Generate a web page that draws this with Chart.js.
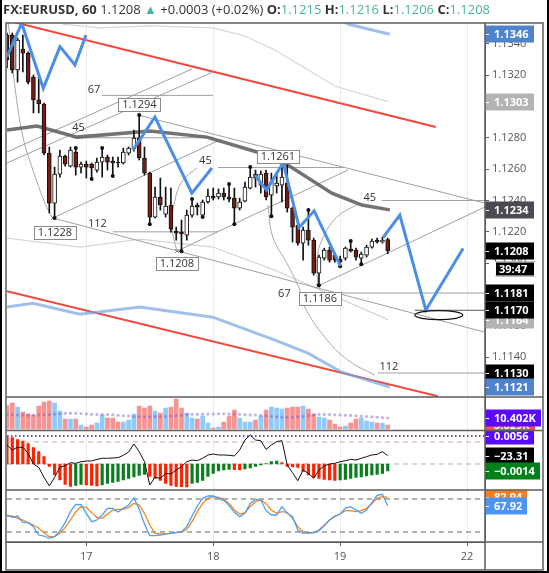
<!DOCTYPE html>
<html>
<head>
<meta charset="utf-8">
<title>FX:EURUSD, 60</title>
<style>
    html, body { margin: 0; padding: 0; background: #fff; }
    #wrap { position: relative; width: 549px; height: 573px; }
    #chart { position: absolute; left: 0; top: 0; }
    #header { position: absolute; left: 3px; top: 0px; font: 13px 'Open Sans', sans-serif; color: #333; white-space: nowrap; }
    #header b { font-weight: 700; }
    .up { color: #4bb2a0; }
</style>
</head>
<body>
<div id="wrap">
    <canvas id="chart" width="549" height="573"></canvas>
    <div id="header"><b>FX:EURUSD, 60</b> 1.1208 <span class="up">▲</span> +0.0003 (+0.02%) <b>O:</b><span class="up">1.1215</span> <b>H:</b><span class="up">1.1216</span> <b>L:</b><span class="up">1.1206</span> <b>C:</b><span class="up">1.1208</span></div>
</div>

<script src="https://cdn.jsdelivr.net/npm/chart.js@4.4.0/dist/chart.umd.min.js"></script>
<script>
    // one bar per hour, bar 15 = the 17th 00:00
    const dayTicks = [15, 39, 63, 87];
    const dayLabels = ['17', '18', '19', '22'];
    const priceTicks = [1.112, 1.114, 1.116, 1.118, 1.120, 1.122, 1.124, 1.126, 1.128, 1.130, 1.132, 1.134];

    const opens = [1.13455, 1.13455, 1.13232, 1.13366, 1.13340, 1.13187, 1.13041, 1.13015, 1.12702, 1.12383,
        1.12568, 1.12683, 1.12619, 1.12709, 1.12613, 1.12632, 1.12632, 1.12594, 1.12645, 1.12677,
        1.12651, 1.12645, 1.12639, 1.12702, 1.12728, 1.12798, 1.12671, 1.12575, 1.12294, 1.12422,
        1.12313, 1.12371, 1.12205, 1.12198, 1.12179, 1.12307, 1.12371, 1.12307, 1.12390, 1.12428,
        1.12422, 1.12447, 1.12422, 1.12415, 1.12351, 1.12396, 1.12479, 1.12568, 1.12498, 1.12575,
        1.12434, 1.12492, 1.12498, 1.12511, 1.12351, 1.12243, 1.12128, 1.12211, 1.12147, 1.11937,
        1.12032, 1.12084, 1.12052, 1.12026, 1.12032, 1.12090, 1.12084, 1.12032, 1.12052, 1.12103,
        1.12147, 1.12135, 1.1215];
    const highs = [1.13468, 1.13468, 1.13436, 1.13455, 1.13347, 1.13200, 1.13187, 1.13021, 1.12741, 1.12613,
        1.12722, 1.12690, 1.12741, 1.12734, 1.12645, 1.12651, 1.12639, 1.12671, 1.12734, 1.12690,
        1.12677, 1.12677, 1.12734, 1.12741, 1.12849, 1.12945, 1.12741, 1.12581, 1.12485, 1.12543,
        1.12485, 1.12479, 1.12230, 1.12275, 1.12339, 1.12409, 1.12383, 1.12403, 1.12473, 1.12479,
        1.12473, 1.12479, 1.12505, 1.12479, 1.12415, 1.12517, 1.12613, 1.12594, 1.12588, 1.12594,
        1.12575, 1.12581, 1.12613, 1.12626, 1.12358, 1.12262, 1.12230, 1.12339, 1.12160, 1.12052,
        1.12096, 1.12103, 1.12064, 1.12045, 1.12103, 1.12141, 1.12096, 1.12071, 1.12115, 1.12154,
        1.12160, 1.12166, 1.1216];
    const lows = [1.13245, 1.13213, 1.13155, 1.13219, 1.13143, 1.12958, 1.12958, 1.12690, 1.12320, 1.12288,
        1.12549, 1.12619, 1.12613, 1.12562, 1.12575, 1.12543, 1.12537, 1.12581, 1.12549, 1.12594,
        1.12556, 1.12613, 1.12632, 1.12690, 1.12715, 1.12658, 1.12562, 1.12249, 1.12288, 1.12339,
        1.12294, 1.12198, 1.12147, 1.12077, 1.12147, 1.12294, 1.12307, 1.12294, 1.12383, 1.12403,
        1.12409, 1.12403, 1.12390, 1.12249, 1.12339, 1.12390, 1.12473, 1.12485, 1.12447, 1.12403,
        1.12300, 1.12447, 1.12390, 1.12326, 1.12135, 1.12115, 1.12020, 1.12115, 1.11924, 1.11860,
        1.12020, 1.12007, 1.12007, 1.11981, 1.12020, 1.12071, 1.12020, 1.11994, 1.12039, 1.12096,
        1.12128, 1.12128, 1.1206];
    const closes = [1.13296, 1.13232, 1.13423, 1.13340, 1.13155, 1.13041, 1.13015, 1.12702, 1.12383, 1.12568,
        1.12683, 1.12632, 1.12722, 1.12613, 1.12632, 1.12613, 1.12607, 1.12645, 1.12677, 1.12645,
        1.12639, 1.12639, 1.12709, 1.12734, 1.12798, 1.12671, 1.12575, 1.12294, 1.12422, 1.12371,
        1.12364, 1.12217, 1.12192, 1.12186, 1.12307, 1.12364, 1.12358, 1.12390, 1.12428, 1.12415,
        1.12447, 1.12422, 1.12409, 1.12351, 1.12390, 1.12485, 1.12549, 1.12543, 1.12568, 1.12422,
        1.12517, 1.12511, 1.12549, 1.12351, 1.12230, 1.12128, 1.12211, 1.12147, 1.11937, 1.12039,
        1.12084, 1.12020, 1.12020, 1.12007, 1.12096, 1.12077, 1.12039, 1.12058, 1.12103, 1.12141,
        1.12135, 1.12147, 1.1208];

    // bars carrying a fractal dot
    const fractalUp = [13, 18, 25, 35, 42, 46, 57, 65];
    const fractalDown = [9, 16, 20, 27, 33, 37, 43, 50, 59, 63, 67];

    // volume, thousands
    const volume = [22, 24.5, 20.8, 16, 14.2, 13.2, 21.7, 25.5, 26.4, 24.5,
        17, 9.4, 9.4, 9.4, 3.8, 1.9, 3.8, 5.7, 13.2, 10.4,
        10.4, 6.6, 6.6, 8.5, 14.2, 21.7, 19.8, 21.7, 17, 15.1,
        19.8, 20.8, 28.3, 19.8, 15.1, 10.4, 9.4, 12.3, 5.7, 0.9,
        1.9, 6.6, 12.3, 17.9, 10.4, 6.6, 6.6, 8.5, 12.3, 17.9,
        20.8, 19.8, 18.9, 19.8, 20.8, 20.8, 21.7, 18.9, 14.2, 11.3,
        10.4, 8.5, 4.7, 1.9, 2.8, 5.7, 9.4, 10.4, 7.5, 6.6,
        5.7, 5.7, 3.8];
    const volumeMA = [13.4, 13.3, 13.2, 13.2, 13.1, 13.2, 13.3, 13.4, 13.6, 14.0,
        14.4, 14.8, 14.9, 14.8, 14.6, 14.2, 13.9, 13.8, 13.8, 13.7,
        13.5, 13.0, 12.5, 12.2, 11.8, 11.6, 11.5, 11.5, 11.6, 11.7,
        11.9, 12.2, 12.6, 13.1, 13.6, 13.9, 14.0, 14.0, 14.1, 14.2,
        14.3, 14.3, 14.2, 14.1, 13.8, 13.5, 13.3, 13.2, 13.0, 12.5,
        12.0, 11.4, 11.0, 10.9, 11.0, 11.4, 12.0, 12.6, 13.4, 13.9,
        13.8, 13.6, 13.4, 13.2, 13.0, 12.8, 12.5, 12.2, 11.8, 11.5,
        11.1, 10.7, 10.4];

    const macdHist = [0.0055, 0.0053, 0.0049, 0.0046, 0.0041, 0.0033, 0.0025, 0.0015, -0.0005, -0.0022,
        -0.0032, -0.0041, -0.0045, -0.0043, -0.0041, -0.0042, -0.0043, -0.0044, -0.0042, -0.0039,
        -0.0037, -0.0035, -0.0032, -0.0029, -0.0026, -0.0023, -0.0021, -0.0025, -0.0029, -0.0033,
        -0.0039, -0.0043, -0.0045, -0.00455, -0.0046, -0.0039, -0.0037, -0.0033, -0.0025, -0.0019,
        -0.0014, -0.0012, -0.0011, -0.00115, -0.0012, -0.0010, -0.0008, -0.0005, -0.0002, 0.0001,
        0.0005, 0.0006, 0.0003, -0.0005, -0.0006, -0.0007, -0.0015, -0.0022, -0.0027, -0.0029,
        -0.0031, -0.0032, -0.0033, -0.0032, -0.0031, -0.0029, -0.0027, -0.0026, -0.0024, -0.0022,
        -0.0021, -0.0019, -0.0014];
    const macdLevel = 0.0056;

    const cci = [73, 27, 52, 52, -3, -100, -130, -221, -300, -221,
        -130, -115, -88, -94, -79, -73, -73, -58, -48, -48,
        -45, -42, -21, 9, 82, 12, -79, -291, -221, -230,
        -185, -191, -155, -124, -79, -64, -70, -48, -18, -9,
        -18, -18, -21, -27, 27, 118, 164, 118, 112, 33,
        73, 103, 112, -109, -179, -252, -155, -185, -230, -155,
        -118, -100, -94, -79, -70, -58, -64, -48, -33, -18,
        -12, 12, -23.31];
    const cciLevels = [100, -100];

    const stochK = [50.9, 46.7, 49.1, 37.6, 37, 29.7, 14.5, 12.7, 8.5, 11.5,
        21.8, 37, 57, 70.3, 69.7, 54, 38.8, 41.8, 50.9, 63,
        63, 56.4, 63, 69.1, 82.4, 61.2, 34.5, 13.3, 13.3, 14.5,
        16.4, 17.6, 19.4, 20.6, 29.7, 49.1, 67.3, 81.2, 85.5, 85.5,
        80.6, 77.6, 67.9, 55.8, 47.9, 54, 72.1, 79.4, 78.2, 58.8,
        50.9, 50.9, 66.1, 54, 47.9, 23.6, 17.6, 18.8, 18.8, 22.4,
        31.5, 41.8, 49.1, 52.7, 63.6, 66.1, 60, 54, 60, 73.3,
        86.7, 88.5, 67.92];
    const stochD = [49.1, 49.1, 44.8, 41.8, 37, 32.7, 26.7, 18.8, 11.5, 11.5,
        17.6, 27.9, 41.8, 57, 66.1, 64.8, 55.2, 46.7, 44.8, 52.7,
        60, 61.2, 61.2, 64.8, 72.1, 69.1, 54, 32.7, 17.6, 16.4,
        16.4, 17.6, 18.8, 20, 24.8, 38.8, 57, 72.1, 81.2, 84.2,
        83, 79.4, 72.1, 60, 52.7, 55.2, 66.1, 75.2, 78.2, 71.5,
        60, 54, 57, 55.2, 44.8, 29.7, 20.6, 17.6, 18.8, 23.6,
        32.7, 41.8, 47.9, 52.7, 58.8, 58.8, 57, 58.8, 63, 71.5,
        81.2, 84.2, 82.94];
    const stochLevels = [80, 20];

    // overlays on the price pane, [bar, price]
    const maLine = [[0, 1.12849], [5.67, 1.12875], [13.23, 1.12804], [27.03, 1.12843], [37.81, 1.12804],
        [47.26, 1.12709], [53.12, 1.12626], [61.44, 1.12447], [67.11, 1.12371], [72.4, 1.1234]];
    const bandUpper = [[10.4, 1.13525], [17.58, 1.13500], [27.03, 1.13513], [38.94, 1.13500], [44.99, 1.13449],
        [50.66, 1.13360], [56.33, 1.13245], [62.0, 1.13130], [72.02, 1.1303]];
    const bandLower = [[0, 1.12160], [13.8, 1.12103], [25.14, 1.12154], [38.94, 1.12103], [50.66, 1.11956], [72.02, 1.1164]];
    const blueLower = [[0, 1.11720], [4.91, 1.11745], [13.8, 1.11675], [25.14, 1.11720], [38.94, 1.11656],
        [50.66, 1.11509], [56.9, 1.11426], [63.33, 1.11305], [72.4, 1.1121]];
    const blueUpper = [[62.95, 1.13564], [64.46, 1.13525], [72.4, 1.1346]];
    const channelTop = [[0, 1.13548], [81.1, 1.12868]];
    const channelBottom = [[0, 1.11822], [81.47, 1.11152]];

    const zigzags = [
        [[0, 1.13317], [2.78, 1.13530], [6.86, 1.13115], [10.02, 1.13381], [12.85, 1.13264], [14.93, 1.13455]],
        [[23.82, 1.12722], [27.98, 1.12932], [34.97, 1.12447], [38.75, 1.12607]],
        [[46.88, 1.12562], [49.09, 1.12466], [52.23, 1.12641], [55.25, 1.12228], [58.09, 1.12334], [63.08, 1.11981]],
        [[71.13, 1.12164], [74.29, 1.12307], [79.21, 1.11701], [86.26, 1.12094]]
    ];

    const fanLines = [
        [[24.76, 1.12945], [90.36, 1.12383]],
        [[8.7, 1.12288], [90.36, 1.11560]],
        [[32.14, 1.12077], [64.46, 1.12594]],
        [[58.79, 1.11854], [90.36, 1.12358]],
        [[8.7, 1.12288], [40.64, 1.12792]],
        [[0, 1.12709], [34.97, 1.13238]],
        [[0, 1.12639], [38.94, 1.13219]]
    ];
    const arcs = [
        [[0.19, 1.13531], [0.57, 1.13442], [1.51, 1.13123], [3.02, 1.12804], [4.91, 1.12594], [7.18, 1.12383], [8.5, 1.12294]],
        [[32.14, 1.12077], [31.19, 1.12230], [31.76, 1.12403], [33.27, 1.12530], [35.92, 1.12607]],
        [[58.79, 1.11860], [58.6, 1.12020], [59.55, 1.12147], [62.38, 1.12294], [66.73, 1.12383]],
        [[49.34, 1.12371], [50.28, 1.12166], [52.93, 1.12001], [55.39, 1.11828], [56.33, 1.11720],
            [60.11, 1.11528], [64.46, 1.11382], [69.57, 1.11286]]
    ];

    const levelPrices = [1.1307, 1.1280, 1.1220, 1.1261, 1.1240, 1.1181, 1.1130, 1.1170];
    const levelFrom = [17.96, 12.29, 20.04, 39.89, 70.89, 62.57, 70.13, 77.13];
    const levelTo = [38.94, 38.94, 39.89, 63.89, 90.4, 90.4, 90.4, 90.4];
    const levelLabels = ['67', '45', '112', '45', '45', '67', '112', ''];
    const levelLabelX = [16.45, 13.52, 17.11, 37.52, 68.62, 52.46, 72.21, 0];
    const levelLabelP = [1.13104, 1.12862, 1.12249, 1.12651, 1.12415, 1.11803, 1.11337, 0];

    const pivotText = ['1.1294', '1.1261', '1.1228', '1.1208', '1.1186'];
    const pivotX = [25.05, 51.23, 9.07, 32.14, 59.17];
    const pivotP = [1.13012, 1.12683, 1.12198, 1.11997, 1.11774];
    const pivotMarks = [[8.7, 1.12288], [32.14, 1.12077], [58.79, 1.11854]];

    // centre bar, centre price, bar radius, price radius
    const targetEllipse = [81.66, 1.11669, 4.54, 0.00029];

    const priceBadges = [[1.1346, '1.1346'], [1.1303, '1.1303'], [1.1234, '1.1234'], [1.1164, '1.1164'],
        [1.1170, '1.1170'], [1.1181, '1.1181'], [1.1208, '1.1208'], [1.1130, '1.1130'], [1.1121, '1.1121']];
    const countdown = '39:47';
    const volumeBadges = [[3.829, '3.829K'], [10.402, '10.402K']];
    const macdBadges = [[0.0056, '0.0056'], [-0.0014, '\u22120.0014']];
    const cciBadge = [-23.31, '\u221223.31'];
    const stochBadges = [[82.94, '82.94'], [67.92, '67.92']];

    const xMax = 90.4;

    // ---- datasets ----
    const bars = opens.map((_, i) => i);
    const pts = arr => arr.map(p => ({x: p[0], y: p[1]}));
    const datasets = [];

    function addLine(points, color, width, extra) {
        datasets.push(Object.assign({
            type: 'line', data: pts(points), borderColor: color, borderWidth: width,
            pointRadius: 0, fill: false, tension: 0, yAxisID: 'y', order: 10
        }, extra || {}));
    }

    fanLines.forEach(l => addLine(l, '#a0a0a0', 1));
    arcs.forEach(a => addLine(a, '#a8a8a8', 1, {tension: 0.4}));
    levelPrices.forEach((p, i) => addLine([[levelFrom[i], p], [levelTo[i], p]], i === 7 ? '#555' : '#a0a0a0', 1));
    addLine(bandUpper, '#d6d6d6', 1.2);
    addLine(bandLower, '#d6d6d6', 1.2);
    addLine(blueLower, 'rgba(120,165,225,0.7)', 3);
    addLine(blueUpper, 'rgba(120,165,225,0.7)', 3);
    addLine(channelTop, '#f0483a', 2);
    addLine(channelBottom, '#f0483a', 2);
    addLine(maLine, 'rgba(90,90,90,0.85)', 3.5, {order: 8});

    datasets.push({
        type: 'bar', data: bars.map(i => ({x: i, y: [lows[i], highs[i]]})),
        backgroundColor: '#111', barThickness: 1, grouped: false, yAxisID: 'y', order: 6
    });
    datasets.push({
        type: 'bar', data: bars.map(i => ({x: i, y: [opens[i], closes[i]]})),
        backgroundColor: bars.map(i => closes[i] >= opens[i] ? '#ffffff' : '#731c14'),
        borderColor: '#111', borderWidth: 1, borderSkipped: false, barThickness: 4, minBarLength: 1,
        grouped: false, yAxisID: 'y', order: 5
    });
    datasets.push({
        type: 'scatter', data: fractalUp.map(i => ({x: i, y: highs[i]})).concat(fractalDown.map(i => ({x: i, y: lows[i]}))),
        pointRadius: 2, pointBackgroundColor: '#111', pointBorderWidth: 0, yAxisID: 'y', order: 4
    });
    datasets.push({
        type: 'scatter', data: pts(pivotMarks), pointStyle: 'crossRot', pointRadius: 3,
        pointBorderColor: '#888', pointBorderWidth: 1, yAxisID: 'y', order: 4
    });
    zigzags.forEach(z => addLine(z, '#4a8ee8', 3, {order: 2}));

    // volume pane
    datasets.push({
        type: 'bar', data: bars.map(i => ({x: i, y: volume[i]})),
        backgroundColor: bars.map(i => closes[i] >= opens[i] ? 'rgba(33,150,243,0.5)' : 'rgba(239,83,80,0.62)'),
        barThickness: 4, grouped: false, yAxisID: 'yVol', order: 3
    });
    datasets.push({
        type: 'line', data: bars.map(i => ({x: i, y: volumeMA[i]})), showLine: false,
        pointRadius: 1.6, pointBackgroundColor: 'rgba(126,87,194,0.45)', pointBorderWidth: 0,
        yAxisID: 'yVol', order: 2
    });

    // histogram + CCI pane
    datasets.push({
        type: 'bar', data: bars.map(i => ({x: i, y: macdHist[i]})),
        backgroundColor: bars.map(i => i > 0 && macdHist[i] > macdHist[i - 1] ? '#0a7e1e' : '#ff2200'),
        barThickness: 2.5, grouped: false, yAxisID: 'yMacd', order: 3
    });
    addLine([[0, macdLevel], [xMax, macdLevel]], '#3a10ff', 1.5, {yAxisID: 'yMacd', borderDash: [1.5, 2.5], order: 4});
    cciLevels.forEach(v => addLine([[0, v], [xMax, v]], '#b4b4b4', 1, {yAxisID: 'yCci', borderDash: [5, 4], order: 4}));
    addLine(bars.map(i => [i, cci[i]]), '#111', 1, {yAxisID: 'yCci', order: 2});

    // stochastic pane
    stochLevels.forEach(v => addLine([[0, v], [xMax, v]], '#666', 1, {yAxisID: 'yStoch', borderDash: [5, 4], order: 4}));
    addLine(bars.map(i => [i, stochD[i]]), '#f5841f', 1.3, {yAxisID: 'yStoch', order: 3});
    addLine(bars.map(i => [i, stochK[i]]), '#4a9ff5', 1.3, {yAxisID: 'yStoch', order: 2});

    // ---- drawing helpers ----
    function drawBadge(ctx, left, scale, clipScale, value, text, bg) {
        const cy = Math.round(scale.getPixelForValue(value));
        ctx.save();
        ctx.beginPath();
        ctx.rect(left, clipScale.top, 64, clipScale.bottom - clipScale.top);
        ctx.clip();
        ctx.font = 'bold 11px "Open Sans", sans-serif';
        const w = Math.round(ctx.measureText(text).width + 14);
        ctx.fillStyle = bg;
        ctx.fillRect(left, cy - 8.5, w, 17);
        ctx.strokeStyle = '#fff';
        ctx.lineWidth = 1;
        ctx.beginPath();
        ctx.moveTo(left, cy + 0.5);
        ctx.lineTo(left + 4, cy + 0.5);
        ctx.stroke();
        ctx.fillStyle = '#fff';
        ctx.textAlign = 'left';
        ctx.textBaseline = 'middle';
        ctx.fillText(text, left + 9, cy + 0.5);
        ctx.restore();
    }

    const overlay = {
        id: 'overlay',
        afterDatasetsDraw(chart) {
            const {ctx} = chart;
            const x = chart.scales.x, y = chart.scales.y;
            const px = v => x.getPixelForValue(v), py = v => y.getPixelForValue(v);
            ctx.save();
            ctx.beginPath();
            ctx.rect(x.left, y.top, x.right - x.left, y.bottom - y.top);
            ctx.clip();

            const cx = px(targetEllipse[0]), cy = py(targetEllipse[1]);
            ctx.beginPath();
            ctx.ellipse(cx, cy, Math.abs(px(targetEllipse[0] + targetEllipse[2]) - cx),
                Math.abs(py(targetEllipse[1] + targetEllipse[3]) - cy), 0, 0, Math.PI * 2);
            ctx.strokeStyle = '#111';
            ctx.lineWidth = 1.2;
            ctx.stroke();

            ctx.font = '11px "Open Sans", sans-serif';
            ctx.textAlign = 'center';
            ctx.textBaseline = 'middle';
            ctx.fillStyle = '#333';
            levelLabels.forEach((t, i) => {
                if (t) ctx.fillText(t, px(levelLabelX[i]), py(levelLabelP[i]));
            });

            pivotText.forEach((t, i) => {
                const bx = px(pivotX[i]), by = py(pivotP[i]);
                const w = Math.round(ctx.measureText(t).width + 8);
                const l = Math.round(bx - w / 2) + 0.5, tp = Math.round(by - 6.5) + 0.5;
                ctx.fillStyle = '#fff';
                ctx.fillRect(l, tp, w, 13);
                ctx.strokeStyle = '#8a8a8a';
                ctx.lineWidth = 1;
                ctx.strokeRect(l, tp, w, 13);
                ctx.fillStyle = '#333';
                ctx.fillText(t, bx, by + 0.5);
            });
            ctx.restore();
        },
        afterDraw(chart) {
            const {ctx} = chart;
            const s = chart.scales;
            const left = s.y.left;

            const priceColors = ['#4f83cc', '#b3b3b3', '#4a4a52', '#b3b3b3', '#000', '#000', '#000', '#000', '#4f83cc'];
            priceBadges.forEach((b, i) => drawBadge(ctx, left, s.y, s.y, b[0], b[1], priceColors[i]));

            // bar countdown under the last price
            const cy = Math.round(s.y.getPixelForValue(closes[closes.length - 1])) + 18;
            ctx.save();
            ctx.fillStyle = '#000';
            ctx.fillRect(left + 10, cy - 7.5, 40, 15);
            ctx.strokeStyle = '#fff';
            ctx.lineWidth = 1;
            ctx.strokeRect(left + 10.5, cy - 7, 39, 14);
            ctx.fillStyle = '#fff';
            ctx.font = 'bold 11px "Open Sans", sans-serif';
            ctx.textAlign = 'left';
            ctx.textBaseline = 'middle';
            ctx.fillText(countdown, left + 14, cy + 0.5);
            ctx.restore();

            drawBadge(ctx, left, s.yVol, s.yVol, volumeBadges[0][0], volumeBadges[0][1], '#ef5350');
            drawBadge(ctx, left, s.yVol, s.yVol, volumeBadges[1][0], volumeBadges[1][1], '#5a0bff');
            drawBadge(ctx, left, s.yMacd, s.yMacd, macdBadges[0][0], macdBadges[0][1], '#5a0bff');
            drawBadge(ctx, left, s.yCci, s.yMacd, cciBadge[0], cciBadge[1], '#000');
            drawBadge(ctx, left, s.yMacd, s.yMacd, macdBadges[1][0], macdBadges[1][1], '#00801a');
            drawBadge(ctx, left, s.yStoch, s.yStoch, stochBadges[0][0], stochBadges[0][1], '#f7801e');
            drawBadge(ctx, left, s.yStoch, s.yStoch, stochBadges[1][0], stochBadges[1][1], '#4c94f5');

            // frame and pane separators
            ctx.save();
            ctx.strokeStyle = '#5d5d5d';
            ctx.lineWidth = 1.5;
            ctx.strokeRect(6, 23, 537, 547);
            ctx.beginPath();
            [s.y, s.yVol, s.yMacd, s.yStoch].forEach(sc => {
                ctx.moveTo(6, sc.bottom);
                ctx.lineTo(543, sc.bottom);
            });
            ctx.moveTo(left, 23);
            ctx.lineTo(left, 570);
            ctx.stroke();
            ctx.strokeStyle = '#000';
            ctx.lineWidth = 2;
            ctx.beginPath();
            ctx.moveTo(1, 0);
            ctx.lineTo(1, 572);
            ctx.lineTo(548, 572);
            ctx.lineTo(548, 0);
            ctx.stroke();
            ctx.restore();
        }
    };

    const tickFont = {family: "'Open Sans', sans-serif", size: 11};
    const fixWidth = sc => { sc.width = 57; };
    const paneAxis = (weight, order, min, max) => ({
        type: 'linear', position: 'right', stack: 'panes', stackWeight: weight, weight: order,
        min: min, max: max, ticks: {display: false}, grid: {display: false},
        border: {color: '#5d5d5d'}, afterFit: fixWidth
    });

    new Chart(document.getElementById('chart'), {
        type: 'line',
        data: {datasets: datasets},
        options: {
            responsive: false,
            animation: false,
            events: [],
            layout: {padding: {left: 7, right: 7, top: 23, bottom: 6}},
            plugins: {legend: {display: false}, tooltip: {enabled: false}},
            scales: {
                x: {
                    type: 'linear', min: 0, max: xMax, offset: false,
                    afterBuildTicks: sc => { sc.ticks = dayTicks.map(v => ({value: v})); },
                    ticks: {callback: v => dayLabels[dayTicks.indexOf(v)], color: '#555', font: tickFont,
                        padding: 4, maxRotation: 0, autoSkip: false},
                    grid: {color: '#ececec', tickColor: '#5d5d5d', tickLength: 4, offset: false},
                    border: {color: '#5d5d5d'},
                    afterFit: sc => { sc.height = 25; }
                },
                y: {
                    type: 'linear', position: 'right', stack: 'panes', stackWeight: 374, weight: 1,
                    min: 1.111469, max: 1.135316,
                    afterBuildTicks: sc => { sc.ticks = priceTicks.map(v => ({value: v})); },
                    ticks: {callback: v => v.toFixed(4), color: '#555', font: tickFont, padding: 3},
                    grid: {drawOnChartArea: false, tickLength: 4, tickColor: '#5d5d5d'},
                    border: {color: '#5d5d5d'},
                    afterFit: fixWidth
                },
                yVol: paneAxis(33.5, 2, -1.4, 30.2),
                yMacd: paneAxis(59.5, 3, -0.0052, 0.0067),
                yStoch: paneAxis(52, 4, 1.8, 96.4),
                yCci: {type: 'linear', position: 'left', display: false, min: -809.1, max: 3909,
                    afterFit: sc => { sc.width = 0; }}
            }
        },
        plugins: [overlay]
    });
</script>
</body>
</html>
